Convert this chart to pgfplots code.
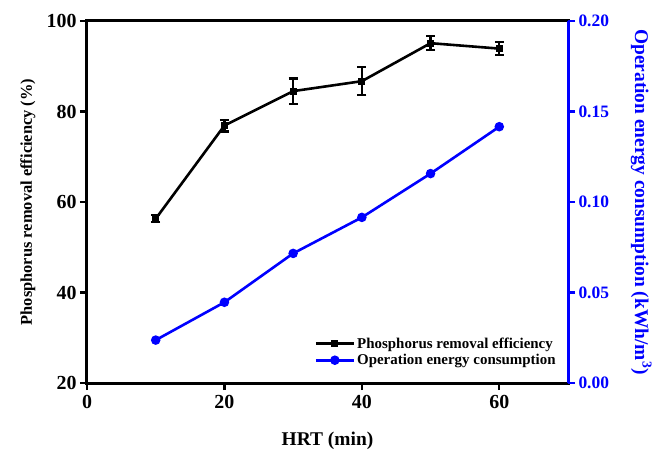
\documentclass[border=0pt]{standalone}
\usepackage{pgfplots}
\pgfplotsset{compat=1.18}
\usepackage{fontspec}
\setmainfont{Liberation Serif}
\definecolor{eblue}{RGB}{0,0,255}
\begin{document}
\begin{tikzpicture}
\useasboundingbox (-87bp,-68bp) rectangle (566bp,383bp);
\begin{axis}[
  at={(0,0)}, anchor=south west,
  scale only axis, width=481bp, height=362bp,
  xmin=0, xmax=70, ymin=20, ymax=100,
  xtick={0,20,40,60}, ytick={20,40,60,80,100},
  xtick pos=bottom, ytick pos=left,
  tick align=outside, major tick length=7bp,
  axis line style={line width=3bp},
  every tick/.style={line width=2.4bp, black},
  tick label style={font=\bfseries\fontsize{20}{22}\selectfont},
  xticklabel style={yshift=-2bp},
  /pgf/number format/assume math mode=true,
  xlabel={HRT (min)}, ylabel={Phosphorus removal efficiency (\%)},
  xlabel style={font=\bfseries\fontsize{19.5}{22}\selectfont, at={(axis description cs:0.5,-0.16)}, anchor=center},
  ylabel style={font=\bfseries\fontsize{16.5}{20}\selectfont, at={(axis description cs:-0.123,0.5)}, anchor=center},
  legend style={draw=none, fill=none, at={(0.985,0.035)}, anchor=south east,
    font=\bfseries\fontsize{15}{17}\selectfont, row sep=0.5bp},
  legend cell align=left,
  legend image code/.code={\draw[mark repeat=2, mark phase=2, #1] plot coordinates {(0bp,0bp) (19bp,0bp) (38bp,0bp)};},
]
\addplot[black, line width=2.6bp, mark=square*, mark size=2.3bp,
  error bars/.cd, y dir=both, y explicit,
  error bar style={line width=2.2bp, black},
  error mark=-, error mark options={rotate=90, mark size=4.5bp, line width=2.2bp, black}]
table[x=x, y=y, y error=e] {
x y e
10 56.3 0.8
20 76.9 1.3
30 84.5 2.8
40 86.7 3.1
50 95.1 1.5
60 93.9 1.4
};
\addlegendentry{Phosphorus removal efficiency}
\addlegendimage{eblue, line width=2.6bp, mark=*, mark size=3.4bp}
\addlegendentry{Operation energy consumption}
\end{axis}
\begin{axis}[
  at={(0,0)}, anchor=south west,
  scale only axis, width=481bp, height=362bp,
  xmin=0, xmax=70, ymin=0, ymax=0.2,
  axis x line=none, axis y line*=right,
  ytick={0,0.05,0.1,0.15,0.2},
  yticklabel style={/pgf/number format/fixed, /pgf/number format/fixed zerofill, /pgf/number format/precision=2, eblue},
  tick align=outside, major tick length=7bp,
  y axis line style={line width=3bp, eblue, -},
  every tick/.style={line width=2.4bp, eblue},
  tick label style={font=\bfseries\fontsize{17.5}{20}\selectfont},
  /pgf/number format/assume math mode=true,
  ylabel={Operation energy consumption (kWh/m\textsuperscript{3})},
  ylabel style={font=\bfseries\fontsize{19.5}{22}\selectfont, eblue, rotate=180, at={(axis description cs:1.152,0.5)}, anchor=center},
]
\addplot[eblue, line width=2.6bp, mark=*, mark size=3.4bp]
table[x=x, y=y] {
x y
10 0.0237
20 0.0446
30 0.0716
40 0.0915
50 0.1157
60 0.1416
};
\end{axis}
\end{tikzpicture}
\end{document}
